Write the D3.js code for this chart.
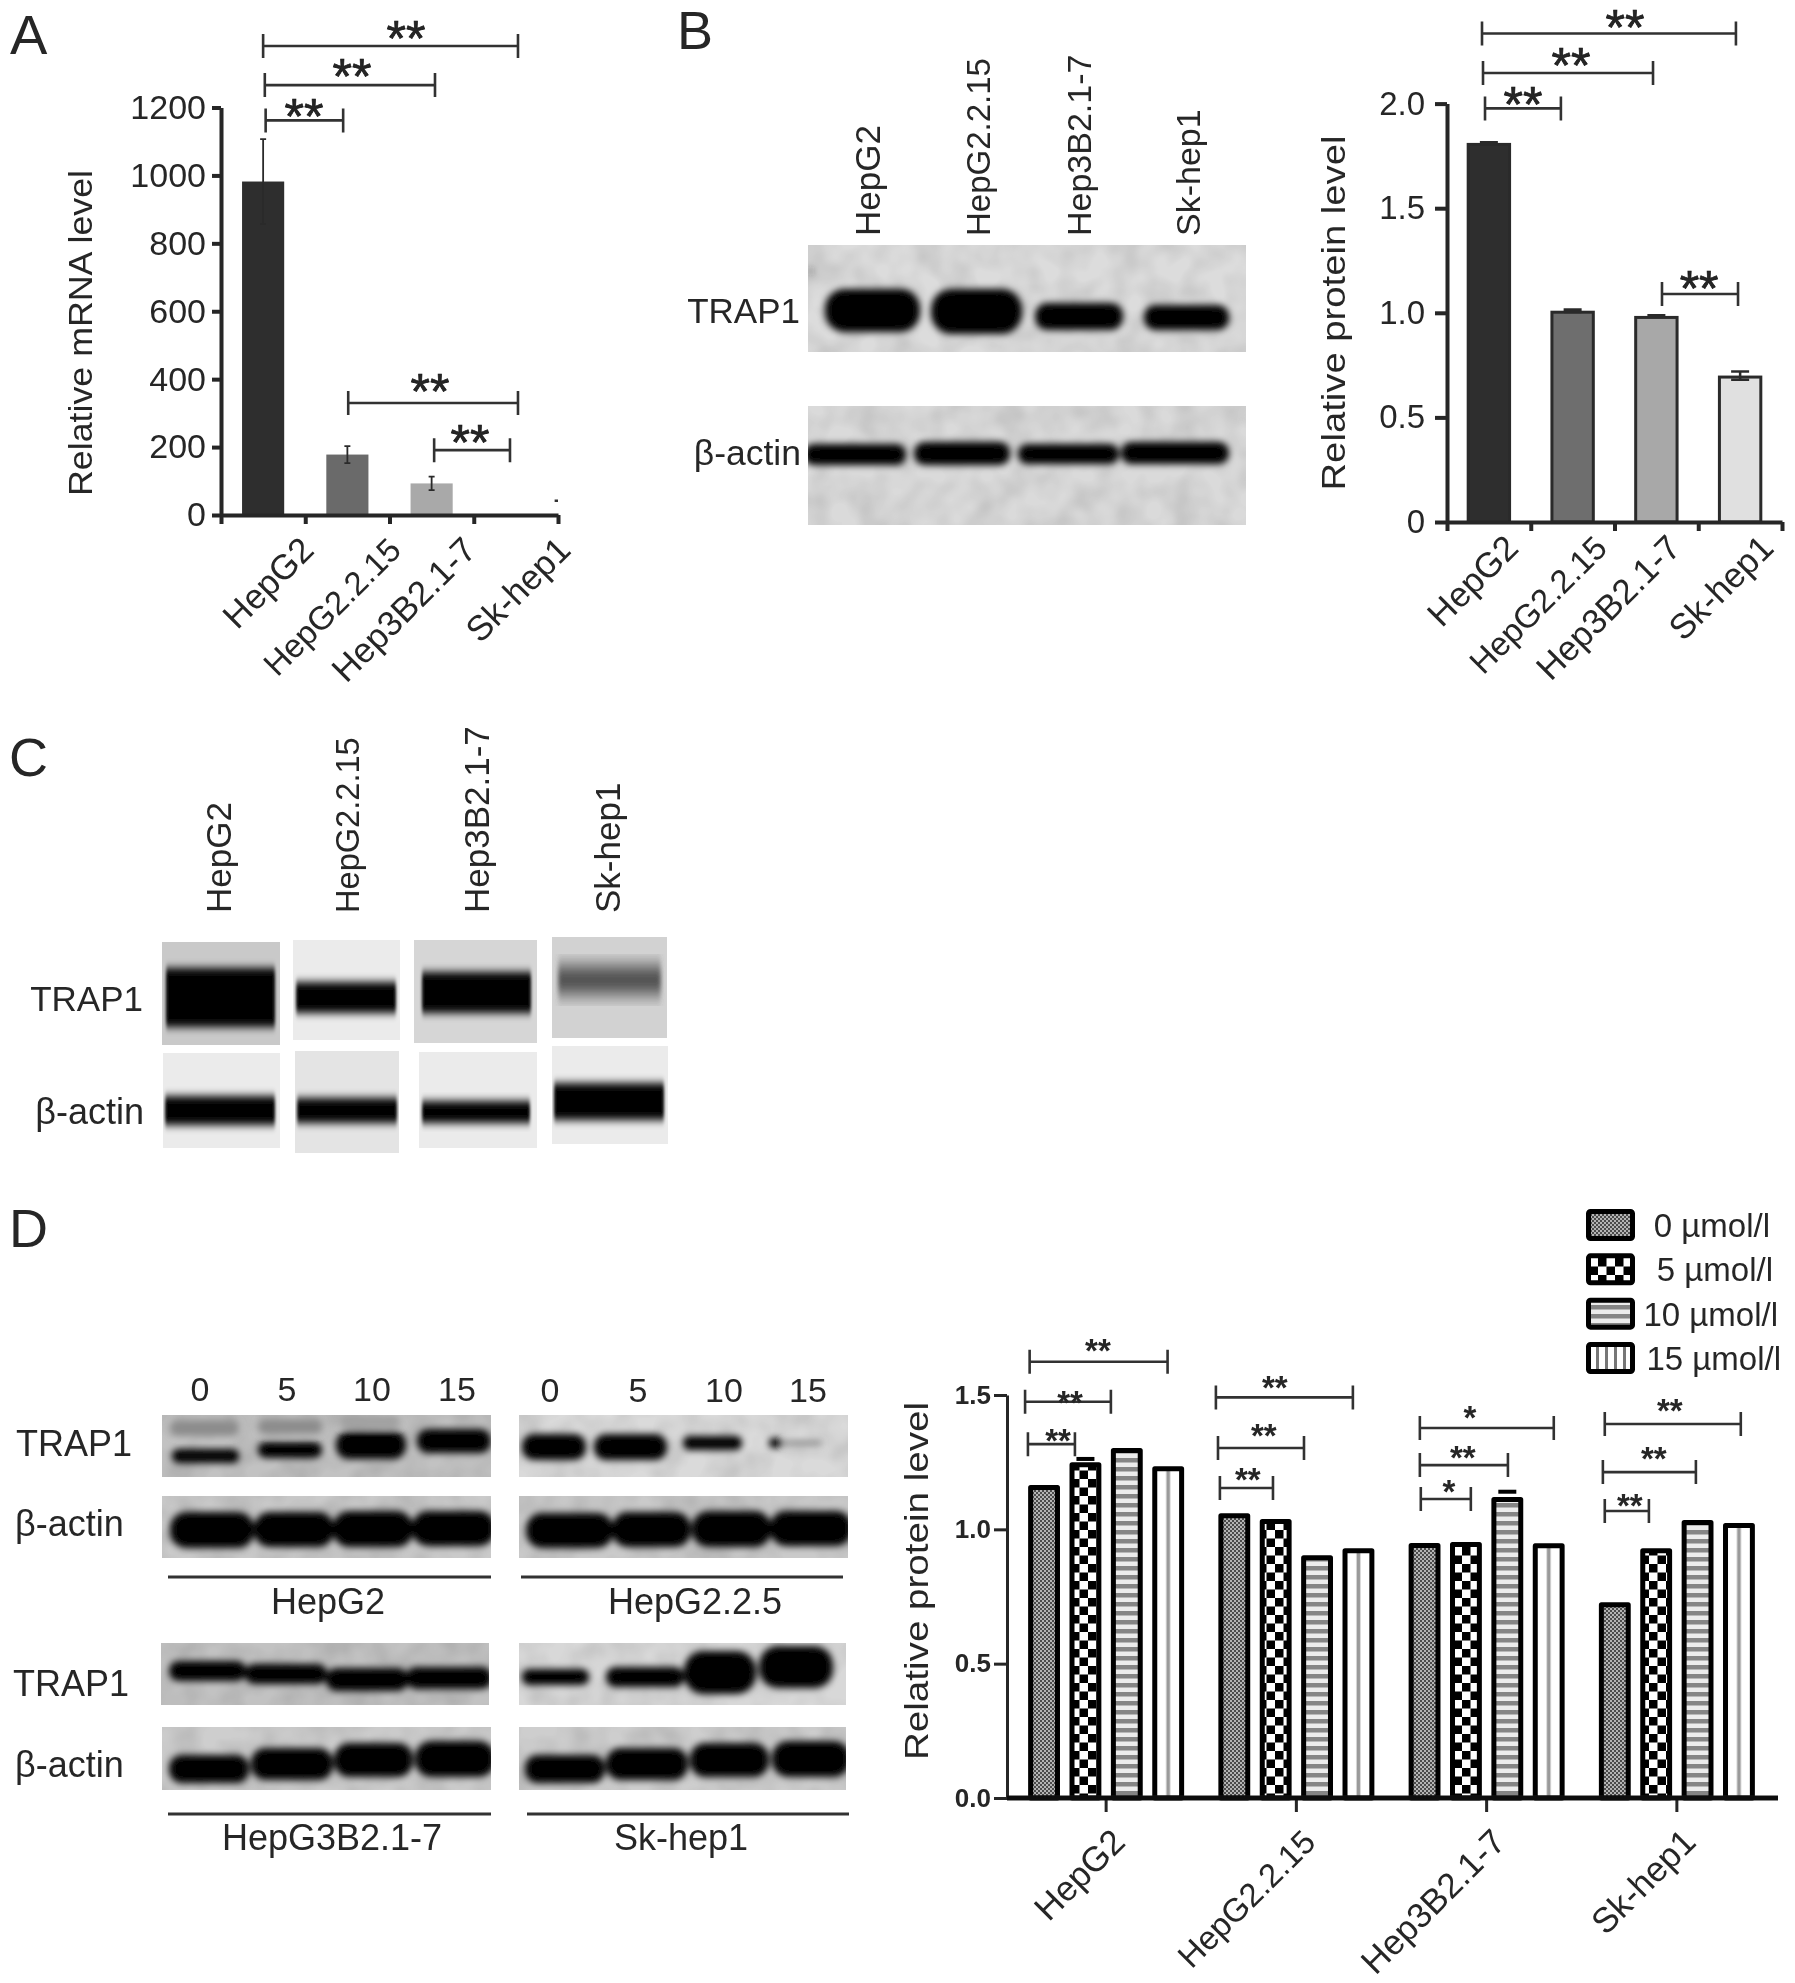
<!DOCTYPE html>
<html>
<head>
<meta charset="utf-8">
<script src="https://cdn.jsdelivr.net/npm/d3@7"></script>
<style>
  html, body { margin: 0; padding: 0; background: #fff; }
  svg { display: block; }
  text { font-family: "Liberation Sans", Arial, sans-serif; fill: #262626; }
</style>
</head>
<body>
<script>
// values
var cells = ["HepG2", "HepG2.2.15", "Hep3B2.1-7", "Sk-hep1"];
var mrnaValues = [982, 178, 93, 1];
var mrnaErrors = [125, 25, 20, 0];
var mrnaTicks = [0, 200, 400, 600, 800, 1000, 1200];
var proteinValues = [1.812, 1.01, 0.985, 0.70];
var proteinErrors = [0.003, 0.006, 0.003, 0.02];
var proteinTicks = [0, 0.5, 1, 1.5, 2];
var doses = ["0 µmol/l", "5 µmol/l", "10 µmol/l", "15 µmol/l"];
var dose0 = [1.165, 1.06, 0.949, 0.729];
var dose5 = [1.25, 1.038, 0.953, 0.93];
var dose10 = [1.303, 0.904, 1.12, 1.035];
var dose15 = [1.235, 0.93, 0.948, 1.024];
var dose5Errors = [0.012, 0, 0, 0];
var dose10Errors = [0, 0, 0.02, 0];
var doseTicks = [0, 0.5, 1, 1.5];
var blotDoses = ["0", "5", "10", "15"];
var blotLines = ["HepG2", "HepG2.2.5", "HepG3B2.1-7", "Sk-hep1"];

// brackets: from, to, level, label, label position, label level (axis units)
var mrnaBrackets = [
  [0.5, 3.525, 1381, "**", 2.196, 1419],
  [0.52, 2.54, 1266, "**", 1.555, 1307],
  [0.53, 1.45, 1162, "**", 0.985, 1190],
  [1.51, 3.525, 330, "**", 2.48, 380],
  [2.53, 3.43, 191, "**", 2.955, 230]
];
var proteinBrackets = [
  [0.418, 3.45, 2.335, "**", 2.125, 2.39],
  [0.43, 2.46, 2.146, "**", 1.48, 2.208],
  [0.454, 1.36, 1.977, "**", 0.907, 2.022],
  [2.567, 3.475, 1.09, "**", 3.01, 1.142]
];
var doseBrackets = [
  [0.098, 0.823, 1.624, "**", 0.457, 1.693],
  [0.074, 0.525, 1.475, "**", 0.31, 1.5],
  [0.089, 0.336, 1.317, "**", 0.247, 1.358],
  [1.077, 1.797, 1.491, "**", 1.387, 1.556],
  [1.088, 1.54, 1.303, "**", 1.329, 1.377],
  [1.098, 1.377, 1.154, "**", 1.245, 1.213],
  [2.149, 2.853, 1.377, "*", 2.412, 1.444],
  [2.149, 2.612, 1.239, "**", 2.375, 1.295],
  [2.154, 2.417, 1.113, "*", 2.302, 1.169],
  [3.121, 3.836, 1.392, "**", 3.463, 1.47],
  [3.111, 3.6, 1.213, "**", 3.379, 1.291],
  [3.121, 3.353, 1.068, "**", 3.253, 1.116]
];

var svg = d3.select("body").append("svg")
  .attr("width", 1795)
  .attr("height", 1983);
var defs = svg.append("defs");

// soft look of the scanned figure
function addBlur(id, dev) {
  defs.append("filter").attr("id", id)
    .attr("x", "-20%").attr("y", "-40%").attr("width", "140%").attr("height", "180%")
    .append("feGaussianBlur").attr("stdDeviation", dev);
}
addBlur("soft", 0.6);
addBlur("blurB", 3.5);
addBlur("blurC", "1.5 4.5");
addBlur("blurC2", "2 9");
addBlur("blurD", 3.5);

var mottle = defs.append("filter").attr("id", "mottle")
  .attr("x", 0).attr("y", 0).attr("width", 1).attr("height", 1);
mottle.append("feTurbulence").attr("type", "fractalNoise")
  .attr("baseFrequency", 0.035).attr("numOctaves", 2).attr("seed", 4).attr("result", "n");
mottle.append("feColorMatrix").attr("in", "n").attr("type", "matrix")
  .attr("values", "0 0 0 0 0  0 0 0 0 0  0 0 0 0 0  0.4 0 0 0 -0.13").attr("result", "a");
mottle.append("feComposite").attr("in", "a").attr("in2", "SourceGraphic")
  .attr("operator", "in").attr("result", "b");
var mottleMerge = mottle.append("feMerge");
mottleMerge.append("feMergeNode").attr("in", "SourceGraphic");
mottleMerge.append("feMergeNode").attr("in", "b");

// bar fills for panel D
function tile(id, w, h, bg) {
  var p = defs.append("pattern").attr("id", id)
    .attr("patternUnits", "userSpaceOnUse").attr("width", w).attr("height", h);
  p.append("rect").attr("width", w).attr("height", h).attr("fill", bg);
  return p;
}
var fine = tile("fine", 4, 4, "#b4b4b4");
fine.append("rect").attr("width", 2).attr("height", 2).attr("fill", "#4c4c4c");
fine.append("rect").attr("x", 2).attr("y", 2).attr("width", 2).attr("height", 2).attr("fill", "#4c4c4c");
var check = tile("check", 17, 17, "#fff");
check.append("rect").attr("width", 8.5).attr("height", 8.5).attr("fill", "#000");
check.append("rect").attr("x", 8.5).attr("y", 8.5).attr("width", 8.5).attr("height", 8.5).attr("fill", "#000");
var hstripe = tile("hstripe", 9, 9, "#ececec");
hstripe.append("rect").attr("width", 9).attr("height", 4.5).attr("fill", "#858585");
var vstripeLegend = tile("vstripeLegend", 9, 9, "#fff");
vstripeLegend.append("rect").attr("x", 3).attr("width", 3).attr("height", 9).attr("fill", "#777");
var vstripe = defs.append("pattern").attr("id", "vstripe")
  .attr("patternUnits", "objectBoundingBox").attr("patternContentUnits", "objectBoundingBox")
  .attr("width", 1).attr("height", 1);
vstripe.append("rect").attr("width", 1).attr("height", 1).attr("fill", "#fff");
vstripe.append("rect").attr("x", 0.43).attr("width", 0.14).attr("height", 1).attr("fill", "#9a9a9a");

var doseFills = ["url(#fine)", "url(#check)", "url(#hstripe)", "url(#vstripe)"];
var legendFills = ["url(#fine)", "url(#check)", "url(#hstripe)", "url(#vstripeLegend)"];

var root = svg.append("g");

function label(text, x, y, size, anchor) {
  return root.append("text")
    .attr("x", x).attr("y", y)
    .attr("font-size", size)
    .attr("text-anchor", anchor || "start")
    .text(text);
}
function verticalLabel(text, x, y, size) {
  root.append("text")
    .attr("transform", "translate(" + x + "," + y + ") rotate(-90)")
    .attr("font-size", size)
    .text(text);
}

var clipCount = 0;
// one blot picture: grey membrane with blurred dark bands
function blot(x0, x1, y0, y1, bg, bands, blur, noisy) {
  clipCount++;
  var id = "clip" + clipCount;
  defs.append("clipPath").attr("id", id).append("rect")
    .attr("x", x0).attr("y", y0).attr("width", x1 - x0).attr("height", y1 - y0);
  var g = root.append("g").attr("clip-path", "url(#" + id + ")");
  var r = g.append("rect")
    .attr("x", x0).attr("y", y0).attr("width", x1 - x0).attr("height", y1 - y0)
    .attr("fill", bg);
  if (noisy) r.attr("filter", "url(#mottle)");
  g.append("g").attr("filter", "url(#" + blur + ")")
    .selectAll("rect").data(bands).join("rect")
    .attr("x", function(d) { return d[0]; })
    .attr("y", function(d) { return d[2]; })
    .attr("width", function(d) { return d[1] - d[0]; })
    .attr("height", function(d) { return d[3] - d[2]; })
    .attr("rx", function(d) { return d[5] === undefined ? (d[3] - d[2]) / 2.2 : d[5]; })
    .attr("fill", function(d) { return d[4] || "#030303"; });
}

function styleAxis(g, width, size, color) {
  g.selectAll("path, line").attr("stroke", color || "#262626").attr("stroke-width", width);
  g.selectAll("text").attr("font-size", size).attr("fill", "#262626");
}

function drawBrackets(list, xU, y, cap, starSize, width, color) {
  var big = starSize >= 40;
  var g = root.append("g");
  g.selectAll("path").data(list).join("path")
    .attr("fill", "none")
    .attr("stroke", color)
    .attr("stroke-width", width)
    .attr("d", function(d) {
      var a = xU(d[0]), b = xU(d[1]), l = y(d[2]);
      return "M" + a + "," + (l - cap) + "V" + (l + cap) +
        "M" + a + "," + l + "H" + b +
        "M" + b + "," + (l - cap) + "V" + (l + cap);
    });
  g.selectAll("text").data(list).join("text")
    .attr("x", function(d) { return xU(d[4]); })
    .attr("y", function(d) { return y(d[5]) + (big ? 0.46 : 0.57) * starSize; })
    .attr("text-anchor", "middle")
    .attr("font-size", starSize)
    .attr("font-weight", big ? "normal" : "bold")
    .attr("stroke", big ? "#111" : "none")
    .attr("stroke-width", big ? 0.7 : 0)
    .attr("fill", "#111")
    .text(function(d) { return d[3]; });
}

// simple bar panel used for A and B
function barPanel(opt) {
  var g = root.append("g");
  var x = d3.scaleBand().domain(cells).range(opt.xRange).paddingInner(opt.pad).paddingOuter(opt.pad / 2);
  var xU = d3.scaleLinear().domain([0, 4]).range(opt.xRange);
  var y = d3.scaleLinear().domain(opt.yDomain).range(opt.yRange);

  var bars = g.selectAll(".bar").data(cells).join("rect")
    .attr("class", "bar")
    .attr("x", function(d) { return x(d) + opt.inset; })
    .attr("width", x.bandwidth() - 2 * opt.inset)
    .attr("y", function(d, i) { return y(opt.values[i]) + opt.inset; })
    .attr("height", function(d, i) { return Math.max(0, y(0) - y(opt.values[i]) - opt.inset); })
    .attr("fill", function(d, i) { return opt.fills[i]; });
  if (opt.inset) bars.attr("stroke", "#2b2b2b").attr("stroke-width", opt.inset * 2);

  g.selectAll(".err").data(cells).join("path")
    .attr("class", "err")
    .attr("fill", "none")
    .attr("stroke", "#2b2b2b")
    .attr("stroke-width", opt.errWidth)
    .attr("d", function(d, i) {
      if (!opt.errors[i]) return null;
      var c = x(d) + x.bandwidth() / 2;
      var t = y(opt.values[i] + opt.errors[i]), b = y(opt.values[i] - opt.errors[i]);
      return "M" + c + "," + t + "V" + b +
        "M" + (c - opt.capW) + "," + t + "H" + (c + opt.capW) +
        "M" + (c - opt.capW) + "," + b + "H" + (c + opt.capW);
    });

  var yAxis = g.append("g")
    .attr("transform", "translate(" + opt.xRange[0] + ",0)")
    .call(d3.axisLeft(y).tickValues(opt.ticks).tickFormat(opt.yFormat)
      .tickSizeInner(opt.tickLen).tickSizeOuter(0).tickPadding(opt.tickPad));
  styleAxis(yAxis, opt.axisWidth, opt.fontSize);

  var xAxis = g.append("g")
    .attr("transform", "translate(0," + opt.yRange[0] + ")")
    .call(d3.axisBottom(xU).tickValues([0, 1, 2, 3, 4])
      .tickFormat(function(d) { return d ? cells[d - 1] : ""; })
      .tickSizeInner(9).tickSizeOuter(0));
  styleAxis(xAxis, opt.axisWidth, 35);
  xAxis.selectAll("text")
    .attr("font-size", function(d) { return d === 2 ? 33 : 35; })
    .attr("text-anchor", "end")
    .attr("dy", 0)
    .attr("x", 0).attr("y", 0)
    .attr("transform", function(d) {
      return "translate(" + (d ? opt.labelDx[d - 1] : 0) + "," + opt.labelDy + ") rotate(-45)";
    });

  g.append("text")
    .attr("transform", "translate(" + opt.titleX + "," + opt.titleY + ") rotate(-90)")
    .attr("font-size", opt.titleSize)
    .attr("text-anchor", "middle")
    .attr("textLength", opt.titleLength)
    .attr("lengthAdjust", "spacingAndGlyphs")
    .text(opt.title);

  drawBrackets(opt.brackets, xU, y, opt.cap, opt.starSize, 2.6, "#333");
  return { xU: xU, y: y, g: g };
}

// --- panel A
label("A", 10, 54, 56);
var panelA = barPanel({
  xRange: [221, 558], yRange: [515, 107.5], yDomain: [0, 1200], pad: 0.5,
  values: mrnaValues, errors: mrnaErrors, ticks: mrnaTicks,
  yFormat: d3.format("d"),
  fills: ["#2e2e2e", "#6b6b6b", "#a9a9a9", "#e0e0e0"],
  inset: 0, errWidth: 1.8, capW: 3, tickLen: 9, tickPad: 6, axisWidth: 4,
  fontSize: 34, labelDx: [10, 13, 4, 14], labelDy: 37,
  title: "Relative mRNA level", titleX: 92, titleY: 333, titleSize: 34, titleLength: 326,
  brackets: mrnaBrackets, cap: 12, starSize: 50
});
// small speck at the end of the Sk-hep1 axis
panelA.g.append("line")
  .attr("x1", panelA.xU(3.96)).attr("x2", panelA.xU(4))
  .attr("y1", panelA.y(42)).attr("y2", panelA.y(42))
  .attr("stroke", "#333").attr("stroke-width", 2.5);

// --- panel B
label("B", 677, 49, 54);
[[880, "HepG2", 35], [990, "HepG2.2.15", 33], [1091, "Hep3B2.1-7", 34], [1200, "Sk-hep1", 34]].forEach(function(d) {
  verticalLabel(d[1], d[0], 236, d[2]);
});
label("TRAP1", 800, 323, 35, "end");
label("β-actin", 801, 465, 35.5, "end");
blot(808, 1246, 245, 352, "#dcdcdc", [
  [825, 920, 289, 332], [931, 1022, 289, 334], [1035, 1123, 303, 330], [1144, 1229, 305, 330],
  [809, 812, 269, 273, "#333", 1]
], "blurB", true);
blot(808, 1246, 406, 525, "#dadada", [
  [804, 906, 444, 465], [914, 1010, 442, 465], [1018, 1119, 444, 464], [1121, 1229, 442, 464]
], "blurB", true);

barPanel({
  xRange: [1447, 1782], yRange: [522, 103.6], yDomain: [0, 2], pad: 0.47,
  values: proteinValues, errors: proteinErrors, ticks: proteinTicks,
  yFormat: function(d) { return d === 0 ? "0" : d3.format(".1f")(d); },
  fills: ["#2e2e2e", "#6e6e6e", "#a8a8a8", "#e0e0e0"],
  inset: 1.5, errWidth: 2.5, capW: 9, tickLen: 12, tickPad: 10, axisWidth: 4,
  fontSize: 33, labelDx: [-11, -6, -16, -7], labelDy: 28,
  title: "Relative protein level", titleX: 1345, titleY: 313, titleSize: 33, titleLength: 355,
  brackets: proteinBrackets, cap: 12, starSize: 50
});

// --- panel C
label("C", 9, 776, 54);
[[231, "HepG2", 35], [359, "HepG2.2.15", 32.6], [489, "Hep3B2.1-7", 35], [620, "Sk-hep1", 35]].forEach(function(d) {
  verticalLabel(d[1], d[0], 913, d[2]);
});
label("TRAP1", 143, 1011, 35, "end");
label("β-actin", 144, 1124, 36, "end");
blot(162, 280, 942, 1045, "#c9c9c9", [[166, 275, 968, 1027, "#000", 2]], "blurC");
blot(293, 400, 940, 1040, "#ebebeb", [[296, 396, 982, 1013, "#000", 2]], "blurC");
blot(414, 537, 940, 1043, "#d6d6d6", [[422, 531, 972, 1013, "#000", 2]], "blurC");
blot(552, 667, 937, 1038, "#d2d2d2", [[558, 661, 966, 994, "#4a4a4a", 2]], "blurC2");
blot(163, 280, 1053, 1148, "#ebebeb", [[165, 275, 1096, 1125, "#000", 2]], "blurC");
blot(295, 399, 1051, 1153, "#e4e4e4", [[297, 397, 1098, 1123, "#000", 2]], "blurC");
blot(419, 537, 1052, 1148, "#ebebeb", [[422, 530, 1101, 1123, "#000", 2]], "blurC");
blot(552, 668, 1046, 1144, "#ebebeb", [[554, 664, 1083, 1120, "#000", 2]], "blurC");

// --- panel D, blots
label("D", 9, 1247, 54);
[200, 287, 372, 457].forEach(function(x, i) { label(blotDoses[i], x, 1401, 34, "middle"); });
[550, 638, 724, 808].forEach(function(x, i) { label(blotDoses[i], x, 1402, 34, "middle"); });
label("TRAP1", 16, 1456, 36);
label("β-actin", 15, 1536, 36);
label("TRAP1", 13, 1696, 36);
label("β-actin", 15, 1777, 36);

blot(162, 491, 1415, 1477, "#c2c2c2", [
  [172, 239, 1449, 1463], [258, 322, 1442, 1458], [336, 406, 1431, 1459], [417, 491, 1429, 1453],
  [170, 239, 1420, 1436, "#8c8c8c"], [258, 322, 1419, 1434, "#8c8c8c"], [340, 400, 1415, 1428, "#a0a0a0"]
], "blurD", true);
blot(519, 848, 1415, 1477, "#dadada", [
  [522, 586, 1434, 1460], [594, 667, 1434, 1460], [683, 742, 1436, 1450], [769, 782, 1438, 1448],
  [782, 822, 1441, 1445, "#7a7a7a"]
], "blurD", true);
blot(162, 491, 1496, 1558, "#cacaca", [
  [170, 254, 1512, 1548], [254, 334, 1512, 1547], [333, 413, 1511, 1547], [412, 495, 1511, 1546]
], "blurD", true);
blot(519, 848, 1496, 1558, "#cacaca", [
  [526, 613, 1513, 1548], [612, 691, 1512, 1547], [692, 771, 1511, 1547], [770, 852, 1511, 1546]
], "blurD", true);
blot(161, 489, 1643, 1705, "#c2c2c2", [
  [169, 246, 1661, 1681], [245, 327, 1664, 1684], [326, 408, 1668, 1691], [406, 492, 1667, 1689]
], "blurD", true);
blot(519, 846, 1643, 1705, "#d8d8d8", [
  [522, 589, 1669, 1685], [606, 684, 1667, 1687], [684, 756, 1651, 1694], [759, 833, 1646, 1688]
], "blurD", true);
blot(162, 491, 1727, 1790, "#cecece", [
  [169, 249, 1755, 1783], [251, 333, 1748, 1780], [334, 413, 1743, 1777], [415, 495, 1741, 1777]
], "blurD", true);
blot(519, 846, 1727, 1790, "#cecece", [
  [525, 605, 1755, 1783], [606, 688, 1748, 1780], [690, 769, 1743, 1777], [772, 850, 1741, 1777]
], "blurD", true);

[[168, 491, 1577], [521, 843, 1577], [168, 491, 1814], [527, 849, 1814]].forEach(function(d) {
  root.append("line")
    .attr("x1", d[0]).attr("x2", d[1]).attr("y1", d[2]).attr("y2", d[2])
    .attr("stroke", "#333").attr("stroke-width", 3);
});
label(blotLines[0], 328, 1614, 36, "middle");
label(blotLines[1], 695, 1614, 36, "middle");
label(blotLines[2], 332, 1850, 36, "middle");
label(blotLines[3], 681, 1850, 36, "middle");

// --- panel D, grouped bars
var doseG = root.append("g");
var x0 = d3.scaleBand().domain(cells).range([1011, 1772]);
var x1 = d3.scaleBand().domain(doses).range([-78, 78]).paddingInner(0.23);
var xDose = d3.scaleLinear().domain([0, 4]).range([1011, 1772]);
var yDose = d3.scaleLinear().domain([0, 1.5]).range([1798, 1395]);
var doseSeries = [dose0, dose5, dose10, dose15];
var doseErrs = [[0, 0, 0, 0], dose5Errors, dose10Errors, [0, 0, 0, 0]];
var barInset = 2.5;

doses.forEach(function(dose, s) {
  var series = doseG.append("g");
  series.selectAll("path").data(cells).join("path")
    .attr("fill", "none").attr("stroke", "#000").attr("stroke-width", 4)
    .attr("d", function(d, i) {
      if (!doseErrs[s][i]) return null;
      var c = x0(d) + x0.bandwidth() / 2 + x1(dose) + x1.bandwidth() / 2;
      var t = yDose(doseSeries[s][i] + doseErrs[s][i]);
      return "M" + (c - 9) + "," + t + "H" + (c + 9);
    });
  series.selectAll("rect").data(cells).join("rect")
    .attr("x", function(d) { return x0(d) + x0.bandwidth() / 2 + x1(dose) + barInset; })
    .attr("width", x1.bandwidth() - 2 * barInset)
    .attr("y", function(d, i) { return yDose(doseSeries[s][i]) + barInset; })
    .attr("height", function(d, i) { return yDose(0) - yDose(doseSeries[s][i]) - barInset; })
    .attr("fill", doseFills[s])
    .attr("stroke", "#000")
    .attr("stroke-width", 2 * barInset)
    .attr("stroke-linejoin", "round");
});

var doseYAxis = doseG.append("g")
  .attr("transform", "translate(1007,0)")
  .call(d3.axisLeft(yDose).tickValues(doseTicks).tickFormat(d3.format(".1f")).tickSizeInner(13).tickSizeOuter(0).tickPadding(3));
styleAxis(doseYAxis, 3);
doseYAxis.selectAll("text").attr("font-size", 26).attr("font-weight", "bold");

var doseXAxis = doseG.append("g")
  .attr("transform", "translate(0,1798)")
  .call(d3.axisBottom(x0).tickSizeInner(14).tickSizeOuter(0));
styleAxis(doseXAxis, 3, 35);
doseXAxis.selectAll("text")
  .attr("font-size", function(d) { return d === cells[1] ? 33 : 35; })
  .attr("text-anchor", "end")
  .attr("dy", 0)
  .attr("x", 0).attr("y", 0)
  .attr("transform", "translate(21,46) rotate(-45)");
doseG.append("line")
  .attr("x1", 1007).attr("x2", 1778).attr("y1", yDose(0)).attr("y2", yDose(0))
  .attr("stroke", "#111").attr("stroke-width", 5);

doseG.append("text")
  .attr("transform", "translate(928,1581) rotate(-90)")
  .attr("font-size", 33)
  .attr("text-anchor", "middle")
  .attr("textLength", 358)
  .attr("lengthAdjust", "spacingAndGlyphs")
  .text("Relative protein level");

drawBrackets(doseBrackets, xDose, yDose, 12, 33, 2.6, "#333");

// legend
var legendY = d3.scalePoint().domain(doses).range([1209, 1342]);
var legendEnds = [1770, 1773, 1778, 1781];
var legend = doseG.append("g");
legend.selectAll("rect").data(doses).join("rect")
  .attr("x", 1588.5).attr("width", 44)
  .attr("y", function(d) { return legendY(d) + 2.5; })
  .attr("height", 27)
  .attr("fill", function(d, i) { return legendFills[i]; })
  .attr("stroke", "#000").attr("stroke-width", 5)
  .attr("rx", 2);
legend.selectAll("text").data(doses).join("text")
  .attr("x", function(d, i) { return legendEnds[i]; })
  .attr("y", function(d) { return legendY(d) + 28; })
  .attr("text-anchor", "end")
  .attr("font-size", 33)
  .text(function(d) { return d; });

root.attr("filter", "url(#soft)");
</script>
</body>
</html>
